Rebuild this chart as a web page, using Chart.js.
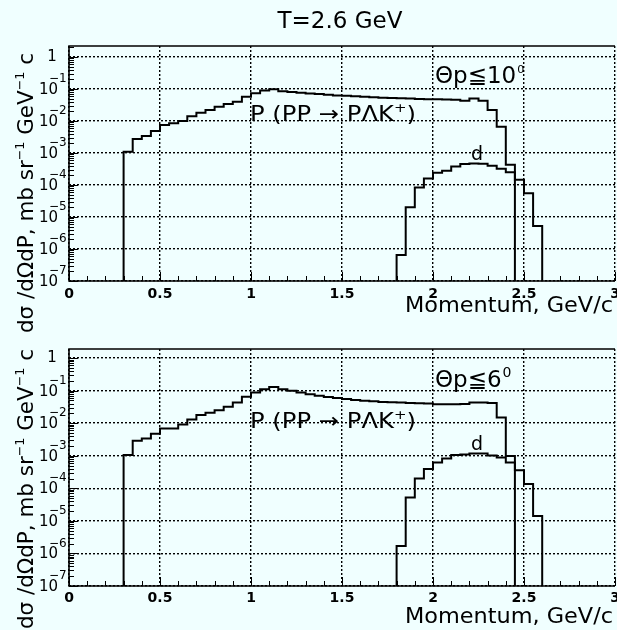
<!DOCTYPE html>
<html>
<head>
<meta charset="utf-8">
<script src="https://cdn.jsdelivr.net/npm/chart.js@4.4.0/dist/chart.umd.min.js"></script>
<style>
  body { margin: 0; background: #f0ffff; }
  #wrap { position: relative; width: 617px; height: 630px; overflow: hidden; }
  canvas { position: absolute; left: 0; }
</style>
</head>
<body>
<div id="wrap">
  <canvas id="upper" width="617" height="340" style="top:0"></canvas>
  <canvas id="lower" width="617" height="315" style="top:315px"></canvas>
</div>
<script>
// momentum bins are 0.05 GeV/c wide
const binWidth = 0.05;
const protonStart = 0.30;
const deuteronStart = 1.80;

// theta_p <= 10 deg
const proton10 = [1.1e-3, 2.75e-3, 3.4e-3, 4.9e-3, 7.5e-3, 8.5e-3, 1.0e-2, 1.4e-2, 1.8e-2, 2.2e-2,
  2.8e-2, 3.4e-2, 4.0e-2, 5.7e-2, 7.4e-2, 8.9e-2, 9.8e-2, 8.5e-2, 8.0e-2, 7.6e-2,
  7.2e-2, 6.9e-2, 6.6e-2, 6.3e-2, 6.1e-2, 5.9e-2, 5.7e-2, 5.5e-2, 5.3e-2, 5.2e-2,
  5.1e-2, 5.0e-2, 4.9e-2, 4.8e-2, 4.8e-2, 4.7e-2, 4.6e-2, 4.3e-2, 5.0e-2, 4.3e-2,
  2.2e-2, 6.6e-3, 4.3e-4];
const deuteron10 = [6.5e-7, 2.0e-5, 8.3e-5, 1.6e-4, 2.4e-4, 2.8e-4, 3.8e-4, 4.5e-4, 4.7e-4, 4.6e-4,
  4.0e-4, 3.2e-4, 2.5e-4, 1.45e-4, 5.5e-5, 5.2e-6];

// theta_p <= 6 deg
const proton6 = [1.05e-3, 2.9e-3, 3.4e-3, 4.7e-3, 6.9e-3, 6.9e-3, 9.1e-3, 1.3e-2, 1.8e-2, 2.1e-2,
  2.5e-2, 3.2e-2, 4.3e-2, 6.5e-2, 8.7e-2, 0.11, 0.13, 0.11, 0.10, 8.8e-2,
  7.8e-2, 7.0e-2, 6.4e-2, 5.9e-2, 5.5e-2, 5.2e-2, 4.9e-2, 4.7e-2, 4.5e-2, 4.4e-2,
  4.3e-2, 4.2e-2, 4.1e-2, 4.0e-2, 3.8e-2, 3.8e-2, 3.8e-2, 3.9e-2, 4.3e-2, 4.3e-2,
  4.2e-2, 1.5e-2, 9.8e-4];
const deuteron6 = [1.7e-6, 5.2e-5, 2.0e-4, 3.9e-4, 6.2e-4, 8.3e-4, 1.05e-3, 1.1e-3, 1.17e-3, 1.17e-3,
  1.02e-3, 8.9e-4, 6.2e-4, 3.6e-4, 1.35e-4, 1.4e-5];

const xTicks = [0, 0.5, 1, 1.5, 2, 2.5, 3];
const xTickLabels = ['0', '0.5', '1', '1.5', '2', '2.5', '3'];
const yExponents = [0, -1, -2, -3, -4, -5, -6, -7];
const yMin = 1e-7;

const FONT = '"DejaVu Sans", sans-serif';

// turn bin contents into step points, closed down to the axis at both ends
function histPoints(start, values) {
  const pts = [{ x: start, y: yMin }];
  values.forEach((v, i) => pts.push({ x: +(start + i * binWidth).toFixed(3), y: v }));
  const end = +(start + values.length * binWidth).toFixed(3);
  pts.push({ x: end, y: values[values.length - 1] });
  pts.push({ x: end, y: yMin });
  return pts;
}

// text with superscripts, optionally squeezed/stretched to a width; returns end x
function richText(ctx, segs, size, x, y, fitWidth, align) {
  let w = 0;
  const parts = segs.map(s => {
    const fs = s.sup ? Math.round(size * 0.6) : size;
    ctx.font = fs + 'px ' + FONT;
    const m = ctx.measureText(s.t).width;
    w += m;
    return { t: s.t, fs: fs, m: m, dy: s.sup ? -size * 0.42 : 0 };
  });
  const k = fitWidth ? fitWidth / w : 1;
  ctx.save();
  ctx.translate(x, y);
  ctx.scale(k, 1);
  let cx = align === 'right' ? -w : 0;
  ctx.textAlign = 'left';
  ctx.textBaseline = 'alphabetic';
  for (const p of parts) {
    ctx.font = p.fs + 'px ' + FONT;
    ctx.fillText(p.t, cx, p.dy);
    cx += p.m;
  }
  ctx.restore();
  return x + cx * k;
}

const panelDecor = {
  id: 'panelDecor',
  afterDraw(chart, args, o) {
    const ctx = chart.ctx;
    const { left, right, top, bottom } = chart.chartArea;
    const x = chart.scales.x, y = chart.scales.y;
    ctx.save();
    ctx.fillStyle = '#000';
    ctx.strokeStyle = '#000';

    // frame: top, left, bottom solid
    ctx.lineWidth = 1.6;
    ctx.beginPath();
    ctx.moveTo(right, top); ctx.lineTo(left, top); ctx.lineTo(left, bottom); ctx.lineTo(right, bottom);
    ctx.stroke();

    // log minor ticks on the left edge
    ctx.lineWidth = 1;
    ctx.beginPath();
    for (const e of yExponents) {
      for (let m = 1; m <= 9; m++) {
        const v = m * Math.pow(10, e);
        if (v > y.max || v < y.min) continue;
        const py = Math.round(y.getPixelForValue(v)) + 0.5;
        ctx.moveTo(left, py);
        ctx.lineTo(left + (m === 1 ? 9 : 5), py);
      }
    }
    // minor ticks along the bottom every 0.1
    for (let i = 0; i <= 30; i++) {
      const px = Math.round(x.getPixelForValue(i / 10)) + 0.5;
      ctx.moveTo(px, bottom);
      ctx.lineTo(px, bottom - (i % 5 === 0 ? 9 : 5));
    }
    ctx.stroke();

    // y tick labels: 1, 10^-1 ... 10^-7
    ctx.textBaseline = 'middle';
    for (const e of yExponents) {
      const py = y.getPixelForValue(Math.pow(10, e));
      if (e === 0) {
        ctx.font = '15px ' + FONT;
        ctx.textAlign = 'center';
        ctx.fillText('1', 52, py);
      } else {
        ctx.font = '15px ' + FONT;
        ctx.textAlign = 'left';
        ctx.fillText('10', 39, py + 1);
        ctx.font = '12px ' + FONT;
        ctx.fillText('\u2212' + (-e), 49, py - 10);
      }
    }

    // x tick labels
    ctx.font = 'bold 14px ' + FONT;
    ctx.textAlign = 'center';
    ctx.textBaseline = 'alphabetic';
    xTicks.forEach((v, i) => ctx.fillText(xTickLabels[i], x.getPixelForValue(v), bottom + o.tickDy));

    // axis titles
    richText(ctx, [{ t: 'Momentum, GeV/c' }], 22, 613, bottom + o.titleDy, 208, 'right');
    ctx.save();
    ctx.translate(33, o.yTitleStart);
    ctx.rotate(-Math.PI / 2);
    richText(ctx, [{ t: 'd\u03c3 /d\u03a9dP, mb sr' }, { t: '\u22121', sup: true }, { t: ' GeV' },
      { t: '\u22121', sup: true }, { t: ' c' }], 22, 0, 0, 280);
    ctx.restore();

    // labels inside the plot
    const angleEnd = richText(ctx, [{ t: '\u0398p\u2266' + o.angle }], 23, 435, o.angleY);
    ctx.font = o.degSize + 'px ' + FONT;
    ctx.textAlign = 'left';
    ctx.fillText('0', angleEnd + 1, o.angleY - 10);
    richText(ctx, [{ t: 'P (PP \u2192 P\u039bK' }, { t: '+', sup: true }, { t: ')' }], 21, 250, o.reactY, 166);
    ctx.font = '19px ' + FONT;
    ctx.fillText('d', 471, o.dY);

    if (o.title) {
      ctx.font = '23px ' + FONT;
      ctx.textAlign = 'center';
      ctx.fillText(o.title, 340, 28);
    }
    ctx.restore();
  }
};

function makePanel(id, protonVals, deuteronVals, yMax, padding, decor) {
  const line = { borderColor: '#000', borderWidth: 2, pointRadius: 0, stepped: 'before', fill: false, tension: 0 };
  const grid = { color: '#000', lineWidth: 1.4, drawTicks: false };
  return new Chart(document.getElementById(id), {
    type: 'line',
    data: {
      datasets: [
        Object.assign({ label: 'P (PP \u2192 P\u039bK+)', data: histPoints(protonStart, protonVals) }, line),
        Object.assign({ label: 'd', data: histPoints(deuteronStart, deuteronVals) }, line)
      ]
    },
    options: {
      responsive: false,
      animation: false,
      layout: { padding: padding },
      plugins: { legend: { display: false }, tooltip: { enabled: false }, panelDecor: decor },
      scales: {
        x: {
          type: 'linear', min: 0, max: 3,
          afterBuildTicks: s => { s.ticks = xTicks.map(v => ({ value: v })); },
          ticks: { display: false },
          grid: grid,
          border: { display: false, dash: [2, 2] }
        },
        y: {
          type: 'logarithmic', min: yMin, max: yMax,
          afterBuildTicks: s => { s.ticks = yExponents.map(e => ({ value: Math.pow(10, e) })); },
          ticks: { display: false },
          grid: grid,
          border: { display: false, dash: [2, 2] }
        }
      }
    },
    plugins: [panelDecor]
  });
}

makePanel('upper', proton10, deuteron10, 2.2,
  { left: 69, right: 2, top: 46, bottom: 59 },
  { title: 'T=2.6 GeV', angle: '10', angleY: 83, degSize: 11, reactY: 121, dY: 160,
    tickDy: 17, titleDy: 31, yTitleStart: 333 });

makePanel('lower', proton6, deuteron6, 1.9,
  { left: 69, right: 2, top: 34, bottom: 44 },
  { angle: '6', angleY: 72, degSize: 14, reactY: 113, dY: 135,
    tickDy: 16, titleDy: 37, yTitleStart: 314 });
</script>
</body>
</html>
